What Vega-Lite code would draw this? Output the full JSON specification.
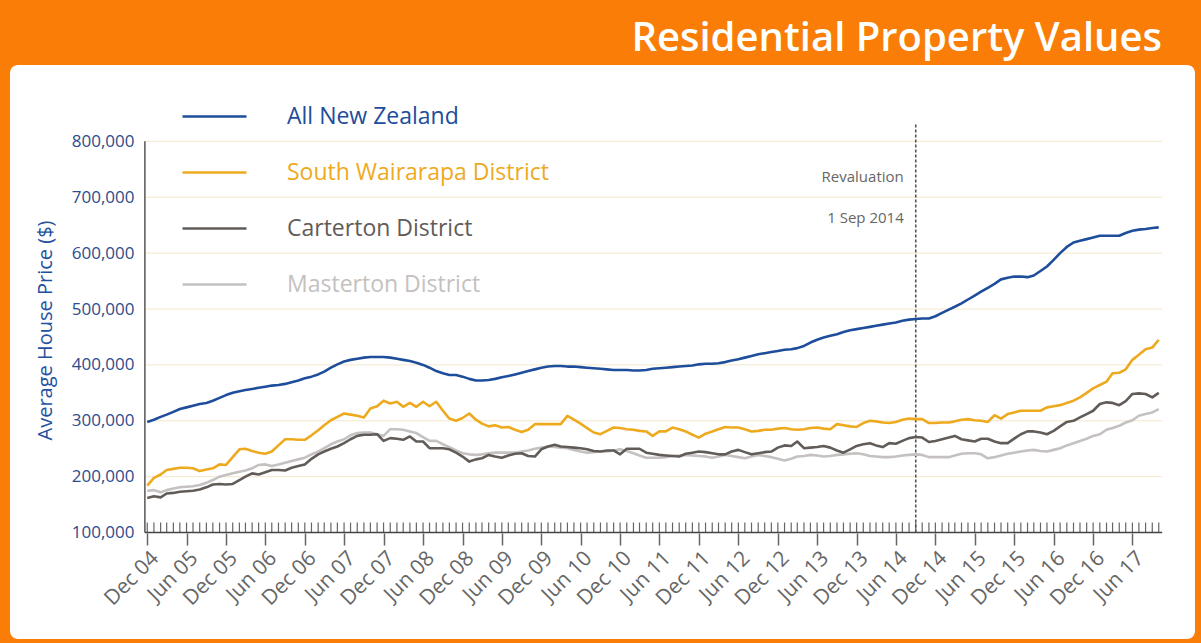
{
"$schema": "https://vega.github.io/schema/vega-lite/v6.json",
"width": 1185,
"height": 574,
"autosize": {"type": "none"},
"padding": {"left": 10, "top": 65, "right": 6, "bottom": 4},
"background": "#F97D06",
"config": {"font": "Open Sans", "view": {"fill": "white", "stroke": null, "cornerRadius": 8}},
"title": {"text": "Residential Property Values", "anchor": "end", "color": "white", "fontSize": 40, "fontWeight": 600, "font": "Open Sans", "offset": 6, "dx": -33},
"datasets": {
"prices": [
{"date":"2004/12/01","All New Zealand":298000,"South Wairarapa District":184000,"Carterton District":162000,"Masterton District":175000},
{"date":"2005/01/01","All New Zealand":302000,"South Wairarapa District":198000,"Carterton District":165000,"Masterton District":176000},
{"date":"2005/02/01","All New Zealand":307000,"South Wairarapa District":204000,"Carterton District":163000,"Masterton District":172000},
{"date":"2005/03/01","All New Zealand":311000,"South Wairarapa District":212000,"Carterton District":170000,"Masterton District":176000},
{"date":"2005/04/01","All New Zealand":316000,"South Wairarapa District":214000,"Carterton District":171000,"Masterton District":179000},
{"date":"2005/05/01","All New Zealand":321000,"South Wairarapa District":216000,"Carterton District":173000,"Masterton District":181000},
{"date":"2005/06/01","All New Zealand":324000,"South Wairarapa District":216000,"Carterton District":174000,"Masterton District":182000},
{"date":"2005/07/01","All New Zealand":327000,"South Wairarapa District":215000,"Carterton District":175000,"Masterton District":183000},
{"date":"2005/08/01","All New Zealand":330000,"South Wairarapa District":210000,"Carterton District":177000,"Masterton District":185000},
{"date":"2005/09/01","All New Zealand":332000,"South Wairarapa District":213000,"Carterton District":181000,"Masterton District":189000},
{"date":"2005/10/01","All New Zealand":336000,"South Wairarapa District":215000,"Carterton District":186000,"Masterton District":194000},
{"date":"2005/11/01","All New Zealand":341000,"South Wairarapa District":222000,"Carterton District":187000,"Masterton District":200000},
{"date":"2005/12/01","All New Zealand":346000,"South Wairarapa District":221000,"Carterton District":186000,"Masterton District":203000},
{"date":"2006/01/01","All New Zealand":350000,"South Wairarapa District":235000,"Carterton District":187000,"Masterton District":206000},
{"date":"2006/02/01","All New Zealand":353000,"South Wairarapa District":249000,"Carterton District":194000,"Masterton District":209000},
{"date":"2006/03/01","All New Zealand":355000,"South Wairarapa District":250000,"Carterton District":200000,"Masterton District":211000},
{"date":"2006/04/01","All New Zealand":357000,"South Wairarapa District":246000,"Carterton District":206000,"Masterton District":215000},
{"date":"2006/05/01","All New Zealand":359000,"South Wairarapa District":243000,"Carterton District":204000,"Masterton District":221000},
{"date":"2006/06/01","All New Zealand":361000,"South Wairarapa District":241000,"Carterton District":208000,"Masterton District":222000},
{"date":"2006/07/01","All New Zealand":363000,"South Wairarapa District":245000,"Carterton District":212000,"Masterton District":219000},
{"date":"2006/08/01","All New Zealand":364000,"South Wairarapa District":256000,"Carterton District":212000,"Masterton District":222000},
{"date":"2006/09/01","All New Zealand":366000,"South Wairarapa District":267000,"Carterton District":211000,"Masterton District":225000},
{"date":"2006/10/01","All New Zealand":369000,"South Wairarapa District":267000,"Carterton District":216000,"Masterton District":228000},
{"date":"2006/11/01","All New Zealand":372000,"South Wairarapa District":266000,"Carterton District":219000,"Masterton District":231000},
{"date":"2006/12/01","All New Zealand":376000,"South Wairarapa District":266000,"Carterton District":222000,"Masterton District":234000},
{"date":"2007/01/01","All New Zealand":379000,"South Wairarapa District":274000,"Carterton District":232000,"Masterton District":240000},
{"date":"2007/02/01","All New Zealand":383000,"South Wairarapa District":283000,"Carterton District":240000,"Masterton District":245000},
{"date":"2007/03/01","All New Zealand":388000,"South Wairarapa District":292000,"Carterton District":245000,"Masterton District":251000},
{"date":"2007/04/01","All New Zealand":395000,"South Wairarapa District":301000,"Carterton District":250000,"Masterton District":258000},
{"date":"2007/05/01","All New Zealand":401000,"South Wairarapa District":307000,"Carterton District":254000,"Masterton District":263000},
{"date":"2007/06/01","All New Zealand":406000,"South Wairarapa District":313000,"Carterton District":260000,"Masterton District":267000},
{"date":"2007/07/01","All New Zealand":409000,"South Wairarapa District":311000,"Carterton District":267000,"Masterton District":274000},
{"date":"2007/08/01","All New Zealand":411000,"South Wairarapa District":309000,"Carterton District":273000,"Masterton District":278000},
{"date":"2007/09/01","All New Zealand":413000,"South Wairarapa District":306000,"Carterton District":275000,"Masterton District":279000},
{"date":"2007/10/01","All New Zealand":414000,"South Wairarapa District":322000,"Carterton District":275000,"Masterton District":279000},
{"date":"2007/11/01","All New Zealand":414000,"South Wairarapa District":326000,"Carterton District":276000,"Masterton District":276000},
{"date":"2007/12/01","All New Zealand":414000,"South Wairarapa District":336000,"Carterton District":264000,"Masterton District":273000},
{"date":"2008/01/01","All New Zealand":413000,"South Wairarapa District":331000,"Carterton District":269000,"Masterton District":285000},
{"date":"2008/02/01","All New Zealand":411000,"South Wairarapa District":334000,"Carterton District":268000,"Masterton District":285000},
{"date":"2008/03/01","All New Zealand":409000,"South Wairarapa District":325000,"Carterton District":266000,"Masterton District":284000},
{"date":"2008/04/01","All New Zealand":407000,"South Wairarapa District":332000,"Carterton District":272000,"Masterton District":281000},
{"date":"2008/05/01","All New Zealand":404000,"South Wairarapa District":325000,"Carterton District":263000,"Masterton District":278000},
{"date":"2008/06/01","All New Zealand":400000,"South Wairarapa District":334000,"Carterton District":263000,"Masterton District":271000},
{"date":"2008/07/01","All New Zealand":395000,"South Wairarapa District":326000,"Carterton District":251000,"Masterton District":264000},
{"date":"2008/08/01","All New Zealand":389000,"South Wairarapa District":334000,"Carterton District":251000,"Masterton District":264000},
{"date":"2008/09/01","All New Zealand":385000,"South Wairarapa District":318000,"Carterton District":251000,"Masterton District":258000},
{"date":"2008/10/01","All New Zealand":382000,"South Wairarapa District":304000,"Carterton District":249000,"Masterton District":253000},
{"date":"2008/11/01","All New Zealand":382000,"South Wairarapa District":300000,"Carterton District":243000,"Masterton District":247000},
{"date":"2008/12/01","All New Zealand":379000,"South Wairarapa District":305000,"Carterton District":236000,"Masterton District":242000},
{"date":"2009/01/01","All New Zealand":375000,"South Wairarapa District":313000,"Carterton District":227000,"Masterton District":240000},
{"date":"2009/02/01","All New Zealand":372000,"South Wairarapa District":302000,"Carterton District":231000,"Masterton District":239000},
{"date":"2009/03/01","All New Zealand":372000,"South Wairarapa District":295000,"Carterton District":233000,"Masterton District":240000},
{"date":"2009/04/01","All New Zealand":373000,"South Wairarapa District":290000,"Carterton District":239000,"Masterton District":242000},
{"date":"2009/05/01","All New Zealand":375000,"South Wairarapa District":292000,"Carterton District":236000,"Masterton District":243000},
{"date":"2009/06/01","All New Zealand":378000,"South Wairarapa District":288000,"Carterton District":234000,"Masterton District":243000},
{"date":"2009/07/01","All New Zealand":380000,"South Wairarapa District":289000,"Carterton District":238000,"Masterton District":243000},
{"date":"2009/08/01","All New Zealand":383000,"South Wairarapa District":284000,"Carterton District":241000,"Masterton District":243000},
{"date":"2009/09/01","All New Zealand":386000,"South Wairarapa District":280000,"Carterton District":242000,"Masterton District":245000},
{"date":"2009/10/01","All New Zealand":389000,"South Wairarapa District":284000,"Carterton District":237000,"Masterton District":247000},
{"date":"2009/11/01","All New Zealand":392000,"South Wairarapa District":294000,"Carterton District":236000,"Masterton District":250000},
{"date":"2009/12/01","All New Zealand":395000,"South Wairarapa District":294000,"Carterton District":249000,"Masterton District":252000},
{"date":"2010/01/01","All New Zealand":397000,"South Wairarapa District":294000,"Carterton District":254000,"Masterton District":254000},
{"date":"2010/02/01","All New Zealand":398000,"South Wairarapa District":294000,"Carterton District":257000,"Masterton District":253000},
{"date":"2010/03/01","All New Zealand":398000,"South Wairarapa District":294000,"Carterton District":254000,"Masterton District":252000},
{"date":"2010/04/01","All New Zealand":397000,"South Wairarapa District":309000,"Carterton District":253000,"Masterton District":251000},
{"date":"2010/05/01","All New Zealand":397000,"South Wairarapa District":302000,"Carterton District":252000,"Masterton District":248000},
{"date":"2010/06/01","All New Zealand":396000,"South Wairarapa District":295000,"Carterton District":251000,"Masterton District":245000},
{"date":"2010/07/01","All New Zealand":395000,"South Wairarapa District":287000,"Carterton District":249000,"Masterton District":243000},
{"date":"2010/08/01","All New Zealand":394000,"South Wairarapa District":279000,"Carterton District":246000,"Masterton District":244000},
{"date":"2010/09/01","All New Zealand":393000,"South Wairarapa District":276000,"Carterton District":245000,"Masterton District":245000},
{"date":"2010/10/01","All New Zealand":392000,"South Wairarapa District":282000,"Carterton District":247000,"Masterton District":245000},
{"date":"2010/11/01","All New Zealand":391000,"South Wairarapa District":288000,"Carterton District":247000,"Masterton District":247000},
{"date":"2010/12/01","All New Zealand":391000,"South Wairarapa District":287000,"Carterton District":240000,"Masterton District":249000},
{"date":"2011/01/01","All New Zealand":391000,"South Wairarapa District":285000,"Carterton District":250000,"Masterton District":246000},
{"date":"2011/02/01","All New Zealand":390000,"South Wairarapa District":284000,"Carterton District":250000,"Masterton District":242000},
{"date":"2011/03/01","All New Zealand":390000,"South Wairarapa District":282000,"Carterton District":250000,"Masterton District":238000},
{"date":"2011/04/01","All New Zealand":391000,"South Wairarapa District":281000,"Carterton District":243000,"Masterton District":234000},
{"date":"2011/05/01","All New Zealand":393000,"South Wairarapa District":273000,"Carterton District":241000,"Masterton District":234000},
{"date":"2011/06/01","All New Zealand":394000,"South Wairarapa District":281000,"Carterton District":239000,"Masterton District":234000},
{"date":"2011/07/01","All New Zealand":395000,"South Wairarapa District":281000,"Carterton District":238000,"Masterton District":235000},
{"date":"2011/08/01","All New Zealand":396000,"South Wairarapa District":288000,"Carterton District":237000,"Masterton District":237000},
{"date":"2011/09/01","All New Zealand":397000,"South Wairarapa District":285000,"Carterton District":236000,"Masterton District":238000},
{"date":"2011/10/01","All New Zealand":398000,"South Wairarapa District":281000,"Carterton District":241000,"Masterton District":239000},
{"date":"2011/11/01","All New Zealand":399000,"South Wairarapa District":275000,"Carterton District":243000,"Masterton District":238000},
{"date":"2011/12/01","All New Zealand":401000,"South Wairarapa District":270000,"Carterton District":245000,"Masterton District":237000},
{"date":"2012/01/01","All New Zealand":402000,"South Wairarapa District":277000,"Carterton District":244000,"Masterton District":236000},
{"date":"2012/02/01","All New Zealand":402000,"South Wairarapa District":281000,"Carterton District":242000,"Masterton District":234000},
{"date":"2012/03/01","All New Zealand":403000,"South Wairarapa District":285000,"Carterton District":240000,"Masterton District":236000},
{"date":"2012/04/01","All New Zealand":405000,"South Wairarapa District":289000,"Carterton District":240000,"Masterton District":239000},
{"date":"2012/05/01","All New Zealand":408000,"South Wairarapa District":288000,"Carterton District":245000,"Masterton District":237000},
{"date":"2012/06/01","All New Zealand":410000,"South Wairarapa District":288000,"Carterton District":248000,"Masterton District":235000},
{"date":"2012/07/01","All New Zealand":413000,"South Wairarapa District":285000,"Carterton District":244000,"Masterton District":233000},
{"date":"2012/08/01","All New Zealand":416000,"South Wairarapa District":281000,"Carterton District":240000,"Masterton District":236000},
{"date":"2012/09/01","All New Zealand":419000,"South Wairarapa District":282000,"Carterton District":242000,"Masterton District":239000},
{"date":"2012/10/01","All New Zealand":421000,"South Wairarapa District":284000,"Carterton District":244000,"Masterton District":237000},
{"date":"2012/11/01","All New Zealand":423000,"South Wairarapa District":284000,"Carterton District":245000,"Masterton District":235000},
{"date":"2012/12/01","All New Zealand":425000,"South Wairarapa District":286000,"Carterton District":252000,"Masterton District":232000},
{"date":"2013/01/01","All New Zealand":427000,"South Wairarapa District":287000,"Carterton District":256000,"Masterton District":229000},
{"date":"2013/02/01","All New Zealand":428000,"South Wairarapa District":285000,"Carterton District":255000,"Masterton District":232000},
{"date":"2013/03/01","All New Zealand":430000,"South Wairarapa District":284000,"Carterton District":263000,"Masterton District":236000},
{"date":"2013/04/01","All New Zealand":434000,"South Wairarapa District":285000,"Carterton District":251000,"Masterton District":237000},
{"date":"2013/05/01","All New Zealand":440000,"South Wairarapa District":287000,"Carterton District":252000,"Masterton District":239000},
{"date":"2013/06/01","All New Zealand":445000,"South Wairarapa District":288000,"Carterton District":253000,"Masterton District":238000},
{"date":"2013/07/01","All New Zealand":449000,"South Wairarapa District":286000,"Carterton District":255000,"Masterton District":236000},
{"date":"2013/08/01","All New Zealand":452000,"South Wairarapa District":285000,"Carterton District":252000,"Masterton District":237000},
{"date":"2013/09/01","All New Zealand":455000,"South Wairarapa District":294000,"Carterton District":247000,"Masterton District":239000},
{"date":"2013/10/01","All New Zealand":459000,"South Wairarapa District":292000,"Carterton District":243000,"Masterton District":240000},
{"date":"2013/11/01","All New Zealand":462000,"South Wairarapa District":290000,"Carterton District":249000,"Masterton District":241000},
{"date":"2013/12/01","All New Zealand":464000,"South Wairarapa District":289000,"Carterton District":255000,"Masterton District":242000},
{"date":"2014/01/01","All New Zealand":466000,"South Wairarapa District":296000,"Carterton District":258000,"Masterton District":240000},
{"date":"2014/02/01","All New Zealand":468000,"South Wairarapa District":300000,"Carterton District":260000,"Masterton District":237000},
{"date":"2014/03/01","All New Zealand":470000,"South Wairarapa District":299000,"Carterton District":256000,"Masterton District":236000},
{"date":"2014/04/01","All New Zealand":472000,"South Wairarapa District":297000,"Carterton District":253000,"Masterton District":235000},
{"date":"2014/05/01","All New Zealand":474000,"South Wairarapa District":296000,"Carterton District":260000,"Masterton District":235000},
{"date":"2014/06/01","All New Zealand":476000,"South Wairarapa District":298000,"Carterton District":259000,"Masterton District":236000},
{"date":"2014/07/01","All New Zealand":479000,"South Wairarapa District":302000,"Carterton District":264000,"Masterton District":238000},
{"date":"2014/08/01","All New Zealand":481000,"South Wairarapa District":304000,"Carterton District":269000,"Masterton District":239000},
{"date":"2014/09/01","All New Zealand":482000,"South Wairarapa District":303000,"Carterton District":271000,"Masterton District":240000},
{"date":"2014/10/01","All New Zealand":483000,"South Wairarapa District":303000,"Carterton District":270000,"Masterton District":239000},
{"date":"2014/11/01","All New Zealand":483000,"South Wairarapa District":296000,"Carterton District":262000,"Masterton District":235000},
{"date":"2014/12/01","All New Zealand":487000,"South Wairarapa District":296000,"Carterton District":264000,"Masterton District":235000},
{"date":"2015/01/01","All New Zealand":493000,"South Wairarapa District":297000,"Carterton District":267000,"Masterton District":235000},
{"date":"2015/02/01","All New Zealand":499000,"South Wairarapa District":297000,"Carterton District":270000,"Masterton District":235000},
{"date":"2015/03/01","All New Zealand":504000,"South Wairarapa District":299000,"Carterton District":273000,"Masterton District":238000},
{"date":"2015/04/01","All New Zealand":510000,"South Wairarapa District":302000,"Carterton District":267000,"Masterton District":241000},
{"date":"2015/05/01","All New Zealand":517000,"South Wairarapa District":303000,"Carterton District":265000,"Masterton District":242000},
{"date":"2015/06/01","All New Zealand":524000,"South Wairarapa District":301000,"Carterton District":263000,"Masterton District":242000},
{"date":"2015/07/01","All New Zealand":531000,"South Wairarapa District":300000,"Carterton District":268000,"Masterton District":240000},
{"date":"2015/08/01","All New Zealand":538000,"South Wairarapa District":298000,"Carterton District":268000,"Masterton District":233000},
{"date":"2015/09/01","All New Zealand":545000,"South Wairarapa District":310000,"Carterton District":263000,"Masterton District":235000},
{"date":"2015/10/01","All New Zealand":553000,"South Wairarapa District":304000,"Carterton District":260000,"Masterton District":238000},
{"date":"2015/11/01","All New Zealand":556000,"South Wairarapa District":312000,"Carterton District":260000,"Masterton District":241000},
{"date":"2015/12/01","All New Zealand":558000,"South Wairarapa District":315000,"Carterton District":268000,"Masterton District":243000},
{"date":"2016/01/01","All New Zealand":558000,"South Wairarapa District":318000,"Carterton District":276000,"Masterton District":245000},
{"date":"2016/02/01","All New Zealand":557000,"South Wairarapa District":318000,"Carterton District":281000,"Masterton District":247000},
{"date":"2016/03/01","All New Zealand":560000,"South Wairarapa District":318000,"Carterton District":281000,"Masterton District":248000},
{"date":"2016/04/01","All New Zealand":568000,"South Wairarapa District":318000,"Carterton District":279000,"Masterton District":246000},
{"date":"2016/05/01","All New Zealand":576000,"South Wairarapa District":324000,"Carterton District":276000,"Masterton District":245000},
{"date":"2016/06/01","All New Zealand":588000,"South Wairarapa District":326000,"Carterton District":282000,"Masterton District":248000},
{"date":"2016/07/01","All New Zealand":600000,"South Wairarapa District":328000,"Carterton District":290000,"Masterton District":251000},
{"date":"2016/08/01","All New Zealand":611000,"South Wairarapa District":332000,"Carterton District":298000,"Masterton District":256000},
{"date":"2016/09/01","All New Zealand":619000,"South Wairarapa District":336000,"Carterton District":300000,"Masterton District":260000},
{"date":"2016/10/01","All New Zealand":622000,"South Wairarapa District":342000,"Carterton District":306000,"Masterton District":264000},
{"date":"2016/11/01","All New Zealand":625000,"South Wairarapa District":350000,"Carterton District":312000,"Masterton District":268000},
{"date":"2016/12/01","All New Zealand":628000,"South Wairarapa District":358000,"Carterton District":318000,"Masterton District":273000},
{"date":"2017/01/01","All New Zealand":631000,"South Wairarapa District":364000,"Carterton District":330000,"Masterton District":276000},
{"date":"2017/02/01","All New Zealand":631000,"South Wairarapa District":370000,"Carterton District":333000,"Masterton District":284000},
{"date":"2017/03/01","All New Zealand":631000,"South Wairarapa District":385000,"Carterton District":332000,"Masterton District":287000},
{"date":"2017/04/01","All New Zealand":631000,"South Wairarapa District":386000,"Carterton District":328000,"Masterton District":291000},
{"date":"2017/05/01","All New Zealand":636000,"South Wairarapa District":392000,"Carterton District":335000,"Masterton District":297000},
{"date":"2017/06/01","All New Zealand":640000,"South Wairarapa District":409000,"Carterton District":348000,"Masterton District":301000},
{"date":"2017/07/01","All New Zealand":642000,"South Wairarapa District":418000,"Carterton District":349000,"Masterton District":309000},
{"date":"2017/08/01","All New Zealand":643000,"South Wairarapa District":428000,"Carterton District":348000,"Masterton District":312000},
{"date":"2017/09/01","All New Zealand":645000,"South Wairarapa District":431000,"Carterton District":342000,"Masterton District":315000},
{"date":"2017/10/01","All New Zealand":646000,"South Wairarapa District":445000,"Carterton District":350000,"Masterton District":321000}
]
},
"layer": [
{
"data": {"values": [{"grid": 200000}, {"grid": 300000}, {"grid": 400000}, {"grid": 500000}, {"grid": 600000}, {"grid": 700000}, {"grid": 800000}]},
"mark": {"type": "rule", "color": "#F4E6CC", "strokeWidth": 1},
"encoding": {
"y": {"field": "grid", "type": "quantitative"},
"x": {"datum": {"year": 2004, "month": 11, "date": 20}, "type": "temporal"},
"x2": {"datum": {"year": 2017, "month": 10, "date": 17}}
}
},
{
"data": {"name": "prices"},
"mark": {"type": "rule", "color": "#666666", "strokeWidth": 1.2},
"encoding": {
"x": {"field": "date", "type": "temporal"},
"y": {"datum": 100000, "type": "quantitative"},
"y2": {"datum": 118000}
}
},
{
"data": {"values": [{}]},
"mark": {"type": "rule", "color": "#555555", "strokeWidth": 1.5},
"encoding": {
"x": {"datum": {"year": 2004, "month": 11, "date": 20}, "type": "temporal"},
"y": {"datum": 100000, "type": "quantitative"},
"y2": {"datum": 800000}
}
},
{
"data": {"values": [{}]},
"mark": {"type": "rule", "color": "#444444", "strokeWidth": 1.5},
"encoding": {
"x": {"datum": {"year": 2004, "month": 11, "date": 20}, "type": "temporal"},
"x2": {"datum": {"year": 2017, "month": 10, "date": 17}},
"y": {"datum": 100000, "type": "quantitative"}
}
},
{
"data": {"values": [{}]},
"mark": {"type": "rule", "color": "#555555", "strokeWidth": 1.6, "strokeDash": [3, 2]},
"encoding": {
"x": {"datum": {"year": 2014, "month": 9, "date": 1}, "type": "temporal"},
"y": {"datum": 100000, "type": "quantitative"},
"y2": {"datum": 830000}
}
},
{
"data": {"values": [{}]},
"mark": {"type": "text", "text": "Revaluation", "align": "right", "dx": -12, "fontSize": 15, "color": "#666666"},
"encoding": {
"x": {"datum": {"year": 2014, "month": 9, "date": 1}, "type": "temporal"},
"y": {"datum": 737000, "type": "quantitative"}
}
},
{
"data": {"values": [{}]},
"mark": {"type": "text", "text": "1 Sep 2014", "align": "right", "dx": -12, "fontSize": 15, "color": "#666666"},
"encoding": {
"x": {"datum": {"year": 2014, "month": 9, "date": 1}, "type": "temporal"},
"y": {"datum": 663000, "type": "quantitative"}
}
},
{
"data": {"name": "prices"},
"transform": [{"fold": ["Masterton District", "Carterton District", "South Wairarapa District", "All New Zealand"], "as": ["series", "price"]}],
"mark": {"type": "line", "strokeWidth": 2.6, "strokeJoin": "round"},
"encoding": {
"x": {
"field": "date", "type": "temporal",
"scale": {"domain": [{"year": 2003, "month": 3, "date": 6}, {"year": 2018, "month": 3, "date": 18}]},
"axis": {
"title": null,
"values": [
{"year": 2004, "month": 12, "date": 1}, {"year": 2005, "month": 6, "date": 1},
{"year": 2005, "month": 12, "date": 1}, {"year": 2006, "month": 6, "date": 1},
{"year": 2006, "month": 12, "date": 1}, {"year": 2007, "month": 6, "date": 1},
{"year": 2007, "month": 12, "date": 1}, {"year": 2008, "month": 6, "date": 1},
{"year": 2008, "month": 12, "date": 1}, {"year": 2009, "month": 6, "date": 1},
{"year": 2009, "month": 12, "date": 1}, {"year": 2010, "month": 6, "date": 1},
{"year": 2010, "month": 12, "date": 1}, {"year": 2011, "month": 6, "date": 1},
{"year": 2011, "month": 12, "date": 1}, {"year": 2012, "month": 6, "date": 1},
{"year": 2012, "month": 12, "date": 1}, {"year": 2013, "month": 6, "date": 1},
{"year": 2013, "month": 12, "date": 1}, {"year": 2014, "month": 6, "date": 1},
{"year": 2014, "month": 12, "date": 1}, {"year": 2015, "month": 6, "date": 1},
{"year": 2015, "month": 12, "date": 1}, {"year": 2016, "month": 6, "date": 1},
{"year": 2016, "month": 12, "date": 1}, {"year": 2017, "month": 6, "date": 1}
],
"format": "%b %y",
"offset": -106,
"domain": false,
"grid": false,
"tickSize": 12,
"tickColor": "#666666",
"tickWidth": 1.5,
"labelAngle": -45,
"labelColor": "#666666",
"labelFontSize": 21,
"labelPadding": 2,
"labelOverlap": false,
"labelFlush": false
}
},
"y": {
"field": "price", "type": "quantitative",
"scale": {"domain": [-90340, 936494], "nice": false, "zero": false},
"axis": {
"values": [100000, 200000, 300000, 400000, 500000, 600000, 700000, 800000],
"format": ",.0f",
"offset": -135,
"domain": false,
"ticks": false,
"tickSize": 0,
"grid": false,
"labelColor": "#2D4C8C",
"labelFontSize": 17,
"labelPadding": 11,
"title": "Average House Price ($)",
"titleColor": "#2251A0",
"titleFontSize": 20,
"titleFontWeight": "normal",
"titleX": -100,
"titleY": 265,
"titleAngle": 270,
"titleAlign": "center",
"titleBaseline": "middle"
}
},
"color": {
"field": "series", "type": "nominal",
"scale": {"domain": ["All New Zealand", "South Wairarapa District", "Carterton District", "Masterton District"], "range": ["#1E4D9B", "#EEAA1E", "#625C59", "#C4C1C0"]},
"legend": {
"title": null,
"orient": "none",
"legendX": 171,
"legendY": 18,
"symbolType": "stroke",
"symbolSize": 4096,
"symbolStrokeWidth": 2.5,
"labelFontSize": 23,
"labelOffset": 39,
"labelLimit": 400,
"rowPadding": 10,
"padding": 0,
"encode": {"labels": {"update": {"fill": {"scale": "color", "field": "value"}}}}
}
}
}
}
]
}
